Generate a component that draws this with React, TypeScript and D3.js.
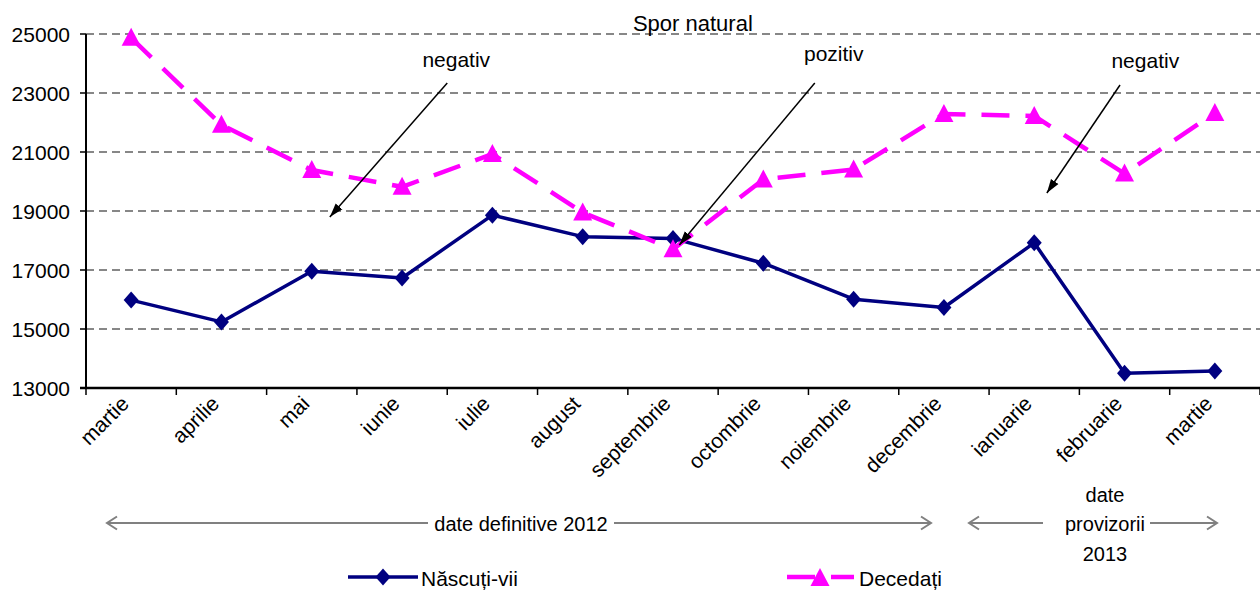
import * as d3 from "d3";

const MONTHS = [
  "martie", "aprilie", "mai", "iunie", "iulie", "august", "septembrie",
  "octombrie", "noiembrie", "decembrie", "ianuarie", "februarie", "martie",
];
const NASCUTI = [15980, 15240, 16960, 16730, 18860, 18130, 18070, 17230, 16010, 15730, 17920, 13500, 13580];
const DECEDATI = [24870, 21920, 20390, 19820, 20930, 18950, 17700, 20070, 20410, 22290, 22220, 20270, 22320];
const Y_TICKS = [13000, 15000, 17000, 19000, 21000, 23000, 25000];

// annotation arrows in (category position, value) space
const ARROWS = [
  { label: "negativ", lx: 3.6, lv: 23880, x0: 3.5, v0: 23340, x1: 2.2, v1: 18800 },
  { label: "pozitiv", lx: 7.78, lv: 24090, x0: 7.57, v0: 23340, x1: 6.07, v1: 17850 },
  { label: "negativ", lx: 11.23, lv: 23850, x0: 10.95, v0: 23270, x1: 10.14, v1: 19610 },
];

const W = 1260;
const H = 590;
const LEFT = 86;
const RIGHT = 1260;
const TOP = 34;
const BOTTOM = 388;
const FONT = "'Liberation Sans', Arial, sans-serif";
const BLUE = "#000080";
const PINK = "#ff00ff";
const GREY = "#808080";

const diamond = (px: number, py: number) =>
  `M${px},${py - 8.5}L${px + 7.5},${py}L${px},${py + 8.5}L${px - 7.5},${py}Z`;
const triangle = (px: number, py: number) =>
  `M${px},${py - 10}L${px + 9.5},${py + 8}L${px - 9.5},${py + 8}Z`;

const App = () => {
  const x = d3
    .scaleBand<number>()
    .domain(d3.range(MONTHS.length))
    .range([LEFT, RIGHT]);
  const bw = x.bandwidth();
  const cx = (i: number) => x(i)! + bw / 2;
  const xPos = (p: number) => LEFT + (p + 0.5) * bw;
  const y = d3.scaleLinear().domain([13000, 25000]).range([BOTTOM, TOP]);

  const line = d3
    .line<number>()
    .x((_, i) => cx(i))
    .y((d) => y(d));

  return (
    <svg
      width={W}
      height={H}
      style={{ position: "absolute", left: 0, top: 0, background: "#fff" }}
      fontFamily={FONT}
    >
      <defs>
        <marker
          id="blackHead"
          markerUnits="userSpaceOnUse"
          markerWidth={16}
          markerHeight={12}
          refX={14}
          refY={6}
          orient="auto"
        >
          <path d="M0,1.5L14,6L0,10.5Z" fill="#000" />
        </marker>
        <marker
          id="greyHead"
          markerUnits="userSpaceOnUse"
          markerWidth={14}
          markerHeight={16}
          refX={12}
          refY={8}
          orient="auto"
        >
          <path d="M2,1.5L12,8L2,14.5" fill="none" stroke={GREY} strokeWidth={2} />
        </marker>
      </defs>

      {/* gridlines */}
      <g>
        {Y_TICKS.filter((t) => t > 13000).map((t) => (
          <line
            key={t}
            x1={LEFT}
            x2={RIGHT}
            y1={y(t)}
            y2={y(t)}
            stroke="#111"
            strokeWidth={1.2}
            strokeDasharray="8,5"
          />
        ))}
      </g>

      {/* axes */}
      <g stroke="#000">
        <line x1={LEFT} x2={LEFT} y1={TOP} y2={BOTTOM} strokeWidth={2} />
        <line x1={LEFT - 6} x2={RIGHT} y1={BOTTOM} y2={BOTTOM} strokeWidth={2.5} />
        {Y_TICKS.map((t) => (
          <line key={t} x1={LEFT - 6} x2={LEFT} y1={y(t)} y2={y(t)} strokeWidth={1.5} />
        ))}
        {d3.range(MONTHS.length + 1).map((i) => (
          <line
            key={i}
            x1={LEFT + i * bw}
            x2={LEFT + i * bw}
            y1={BOTTOM}
            y2={BOTTOM + 7}
            strokeWidth={1.5}
          />
        ))}
      </g>
      <g fontSize={21} textAnchor="end">
        {Y_TICKS.map((t) => (
          <text key={t} x={LEFT - 16} y={y(t)} dy="0.36em">
            {t}
          </text>
        ))}
      </g>
      <g fontSize={21} textAnchor="end">
        {MONTHS.map((m, i) => (
          <text key={i} transform={`translate(${cx(i) - 1},${BOTTOM + 17}) rotate(-45)`}>
            {m}
          </text>
        ))}
      </g>

      {/* series */}
      <path d={line(NASCUTI)!} fill="none" stroke={BLUE} strokeWidth={3.5} strokeLinejoin="round" />
      {NASCUTI.map((v, i) => (
        <path key={i} d={diamond(cx(i), y(v))} fill={BLUE} />
      ))}
      <path
        d={line(DECEDATI)!}
        fill="none"
        stroke={PINK}
        strokeWidth={4.5}
        strokeDasharray="28,16"
      />
      {DECEDATI.map((v, i) => (
        <path key={i} d={triangle(cx(i), y(v))} fill={PINK} />
      ))}

      {/* title and annotations */}
      <text x={xPos(6.22)} y={31} fontSize={22} textAnchor="middle">
        Spor natural
      </text>
      {ARROWS.map((a, i) => (
        <g key={i}>
          <text x={xPos(a.lx)} y={y(a.lv)} fontSize={21} textAnchor="middle">
            {a.label}
          </text>
          <line
            x1={xPos(a.x0)}
            y1={y(a.v0)}
            x2={xPos(a.x1)}
            y2={y(a.v1)}
            stroke="#000"
            strokeWidth={1.5}
            markerEnd="url(#blackHead)"
          />
        </g>
      ))}

      {/* period brackets */}
      <g stroke={GREY} strokeWidth={2}>
        <line x1={428} y1={523} x2={107} y2={523} markerEnd="url(#greyHead)" />
        <line x1={614} y1={523} x2={931} y2={523} markerEnd="url(#greyHead)" />
        <line x1={1043} y1={523} x2={969} y2={523} markerEnd="url(#greyHead)" />
        <line x1={1150} y1={523} x2={1217} y2={523} markerEnd="url(#greyHead)" />
      </g>
      <g fontSize={20} textAnchor="middle">
        <text x={521} y={531}>date definitive 2012</text>
        <text x={1105} y={502}>date</text>
        <text x={1105} y={531}>provizorii</text>
        <text x={1105} y={561}>2013</text>
      </g>

      {/* legend */}
      <g>
        <line x1={348} x2={418} y1={577} y2={577} stroke={BLUE} strokeWidth={3.5} />
        <path d={diamond(383, 577)} fill={BLUE} />
        <text x={421} y={586} fontSize={21}>Născuți-vii</text>
        <line
          x1={787}
          x2={854}
          y1={577}
          y2={577}
          stroke={PINK}
          strokeWidth={4.5}
          strokeDasharray="28,16"
        />
        <path d={triangle(820, 578)} fill={PINK} />
        <text x={859} y={586} fontSize={21}>Decedați</text>
      </g>
    </svg>
  );
};

export default App;
